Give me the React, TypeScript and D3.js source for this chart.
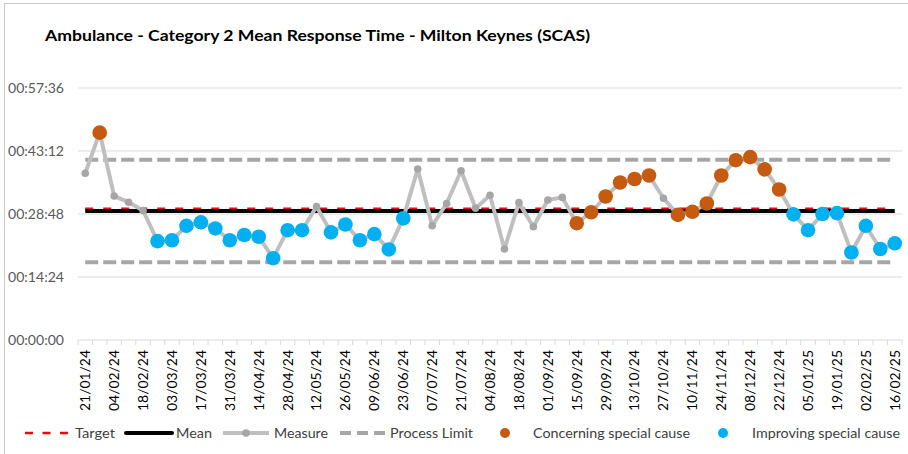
import React from 'react';
import * as d3 from 'd3';

// weekly periods
const weeks = [
  '21/01/24', '28/01/24', '04/02/24', '11/02/24', '18/02/24', '25/02/24', '03/03/24', '10/03/24',
  '17/03/24', '24/03/24', '31/03/24', '07/04/24', '14/04/24', '21/04/24', '28/04/24', '05/05/24',
  '12/05/24', '19/05/24', '26/05/24', '02/06/24', '09/06/24', '16/06/24', '23/06/24', '30/06/24',
  '07/07/24', '14/07/24', '21/07/24', '28/07/24', '04/08/24', '11/08/24', '18/08/24', '25/08/24',
  '01/09/24', '08/09/24', '15/09/24', '22/09/24', '29/09/24', '06/10/24', '13/10/24', '20/10/24',
  '27/10/24', '03/11/24', '10/11/24', '17/11/24', '24/11/24', '01/12/24', '08/12/24', '15/12/24',
  '22/12/24', '29/12/24', '05/01/25', '12/01/25', '19/01/25', '26/01/25', '02/02/25', '09/02/25',
  '16/02/25',
];

// mean response time, minutes
const measure = [
  38.1, 47.4, 32.9, 31.5, 29.6, 22.6, 22.8, 26.1, 26.9, 25.5, 22.8, 24.0, 23.6, 18.7, 25.1, 25.1,
  30.5, 24.6, 26.4, 22.8, 24.2, 20.7, 27.8, 39.1, 26.1, 31.2, 38.7, 30.1, 33.1, 20.8, 31.4, 25.9,
  32.0, 32.6, 26.7, 29.2, 32.8, 36.0, 36.8, 37.6, 32.4, 28.6, 29.3, 31.2, 37.6, 41.1, 41.8, 39.0,
  34.4, 28.7, 25.1, 28.8, 29.0, 20.0, 26.1, 20.8, 22.1,
];

// special cause flags: C = concerning, I = improving, '' = none
const variation = [
  '', 'C', '', '', '', 'I', 'I', 'I', 'I', 'I', 'I', 'I', 'I', 'I', 'I', 'I',
  '', 'I', 'I', 'I', 'I', 'I', 'I', '', '', '', '', '', '', '', '', '',
  '', '', 'C', 'C', 'C', 'C', 'C', 'C', '', 'C', 'C', 'C', 'C', 'C', 'C', 'C',
  'C', 'I', 'I', 'I', 'I', 'I', 'I', 'I', 'I',
];

const target = 30;
const mean = 29.5;
const upperLimit = 41.2;
const lowerLimit = 17.8;
const yTicks = [0, 14.4, 28.8, 43.2, 57.6];

const W = 908;
const H = 454;
const FONT = 'Lato, "Liberation Sans", sans-serif';
const ORANGE = '#c55a11';
const BLUE = '#00b0f0';

const fmt = (m: number) => {
  const s = Math.round(m * 60);
  const p = (n: number) => String(n).padStart(2, '0');
  return `${p(Math.floor(s / 3600))}:${p(Math.floor((s % 3600) / 60))}:${p(s % 60)}`;
};

export default function App() {
  const x = d3.scaleBand<number>().domain(d3.range(weeks.length)).range([78, 902]);
  const y = d3.scaleLinear().domain([0, 57.6]).range([340, 88]);
  const cx = (i: number) => (x(i) as number) + x.bandwidth() / 2;
  const x0 = cx(0);
  const x1 = cx(weeks.length - 1);

  const line = d3.line<number>().x((_, i) => cx(i)).y(d => y(d));

  const legendY = 433;

  return (
    <svg width={W} height={H} style={{ position: 'absolute', left: 0, top: 0, background: '#fff' }}
      fontFamily={FONT}>
      <rect x={4.5} y={3.5} width={W + 10} height={H + 10} fill="#fff" stroke="#c8c8c8" />
      <text x={45} y={41} fontSize={16} fontWeight="bold" fill="#000" textLength={545}
        lengthAdjust="spacingAndGlyphs">
        Ambulance - Category 2 Mean Response Time - Milton Keynes (SCAS)
      </text>

      {/* gridlines and y labels */}
      {yTicks.map(t => (
        <g key={t}>
          {t > 0 && <line x1={78} x2={902} y1={y(t)} y2={y(t)} stroke="#d9d9d9" strokeWidth={1} />}
          <text x={64} y={y(t)} dy="0.35em" textAnchor="end" fontSize={14} fill="#595959"
            textLength={56} lengthAdjust="spacingAndGlyphs">{fmt(t)}</text>
        </g>
      ))}

      {/* x axis */}
      <line x1={78} x2={902} y1={y(0)} y2={y(0)} stroke="#d9d9d9" strokeWidth={1} />
      {d3.range(weeks.length + 1).map(i => {
        const xx = 78 + i * x.step();
        return <line key={i} x1={xx} x2={xx} y1={y(0)} y2={y(0) + 5} stroke="#d9d9d9" />;
      })}
      {weeks.map((w, i) => i % 2 === 0 && (
        <text key={w} transform={`translate(${cx(i)},${350}) rotate(-90)`} dy="0.35em"
          textAnchor="end" fontSize={14} fill="#000" textLength={61}
          lengthAdjust="spacingAndGlyphs">{w}</text>
      ))}

      {/* limits, mean, target */}
      <line x1={x0} x2={x1} y1={y(upperLimit)} y2={y(upperLimit)} stroke="#a6a6a6" strokeWidth={4}
        strokeDasharray="13,5" />
      <line x1={x0} x2={x1} y1={y(lowerLimit)} y2={y(lowerLimit)} stroke="#a6a6a6" strokeWidth={4}
        strokeDasharray="13,5" />
      <line x1={x0} x2={x1} y1={y(target)} y2={y(target)} stroke="#ff0000" strokeWidth={2.5}
        strokeDasharray="8,10" />
      <line x1={x0} x2={x1} y1={y(mean)} y2={y(mean)} stroke="#000" strokeWidth={4} />

      {/* measure */}
      <path d={line(measure) as string} fill="none" stroke="#bfbfbf" strokeWidth={4}
        strokeLinejoin="round" />
      {measure.map((v, i) => (
        <circle key={i} cx={cx(i)} cy={y(v)} r={3.8} fill="#a6a6a6" />
      ))}
      {measure.map((v, i) => variation[i] && (
        <circle key={'s' + i} cx={cx(i)} cy={y(v)} r={7.3}
          fill={variation[i] === 'C' ? ORANGE : BLUE} />
      ))}

      {/* legend */}
      <g fontSize={14} fill="#404040">
        <line x1={25} x2={68} y1={legendY} y2={legendY} stroke="#ff0000" strokeWidth={2.5}
          strokeDasharray="8,9.5" />
        <text x={75} y={legendY} dy="0.35em" textLength={40} lengthAdjust="spacingAndGlyphs">Target</text>
        <line x1={126} x2={172} y1={legendY} y2={legendY} stroke="#000" strokeWidth={4}
          strokeLinecap="round" />
        <text x={176} y={legendY} dy="0.35em" textLength={36} lengthAdjust="spacingAndGlyphs">Mean</text>
        <line x1={223} x2={269} y1={legendY} y2={legendY} stroke="#bfbfbf" strokeWidth={4} />
        <circle cx={246} cy={legendY} r={3.8} fill="#a6a6a6" />
        <text x={274} y={legendY} dy="0.35em" textLength={54} lengthAdjust="spacingAndGlyphs">Measure</text>
        <line x1={340} x2={385} y1={legendY} y2={legendY} stroke="#a6a6a6" strokeWidth={4}
          strokeDasharray="11,6" />
        <text x={390} y={legendY} dy="0.35em" textLength={83} lengthAdjust="spacingAndGlyphs">Process Limit</text>
        <circle cx={505} cy={legendY} r={5} fill={ORANGE} />
        <text x={533} y={legendY} dy="0.35em" textLength={157} lengthAdjust="spacingAndGlyphs">Concerning special cause</text>
        <circle cx={723} cy={legendY} r={5} fill={BLUE} />
        <text x={752} y={legendY} dy="0.35em" textLength={148} lengthAdjust="spacingAndGlyphs">Improving special cause</text>
      </g>
    </svg>
  );
}
